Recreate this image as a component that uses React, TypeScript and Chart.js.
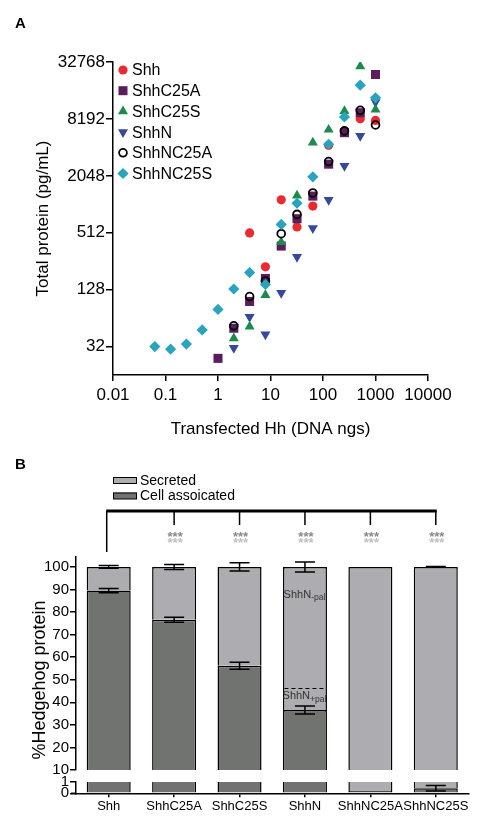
import React, { useEffect, useRef } from 'react';
import { Chart, registerables } from 'chart.js';

Chart.register(...registerables);

const FONT = "'Liberation Sans', Arial, Helvetica, sans-serif";
Chart.defaults.font.family = FONT;
Chart.defaults.color = '#000';

// ---------------- Panel A data ----------------
const seriesNamesA = ['Shh', 'ShhC25A', 'ShhC25S', 'ShhN', 'ShhNC25A', 'ShhNC25S'];
const shhDose = [4, 8, 16, 32, 64, 128, 256, 512, 1000];
const shhProtein = [510, 223, 1140, 590, 980, 4300, 6100, 8200, 7900];
const shhC25ADose = [1, 2, 4, 8, 16, 32, 64, 128, 256, 512, 1000];
const shhC25AProtein = [24, 50, 96, 168, 370, 720, 1250, 2720, 5860, 9530, 24160];
const shhC25SDose = [2, 4, 8, 16, 32, 64, 128, 256, 512, 1000];
const shhC25SProtein = [39, 52, 112, 407, 1264, 4600, 6300, 9900, 29540, 10300];
const shhNDose = [2, 4, 8, 16, 32, 64, 128, 256, 512, 1000];
const shhNProtein = [31, 66, 43, 118, 284, 573, 1140, 2610, 5400, 12300];
const shhNC25ADose = [2, 4, 8, 16, 32, 64, 128, 256, 512, 1000];
const shhNC25AProtein = [53, 108, 158, 500, 800, 1350, 2900, 6120, 10090, 7070];
const shhNC25SDose = [0.0625, 0.125, 0.25, 0.5, 1, 2, 4, 8, 16, 32, 64, 128, 256, 512, 1000];
const shhNC25SProtein = [32, 30, 34, 48, 79, 130, 194, 145, 627, 1050, 2000, 4420, 8580, 18650, 13700];

const xTicksA = [0.01, 0.1, 1, 10, 100, 1000, 10000];
const xTickLabelsA = ['0.01', '0.1', '1', '10', '100', '1000', '10000'];
const yTicksA = [32, 128, 512, 2048, 8192, 32768];
const yTickLabelsA = ['32', '128', '512', '2048', '8192', '32768'];

// ---------------- Panel B data ----------------
const categoriesB = ['Shh', 'ShhC25A', 'ShhC25S', 'ShhN', 'ShhNC25A', 'ShhNC25S'];
const legendB = ['Secreted', 'Cell assoicated'];
const cellAssociated = [89.5, 76.6, 56.2, 36.6, 0.2, 0.45];
const secreted = [10.5, 23.4, 43.8, 63.4, 99.8, 99.55];
const cellErr = [0.9, 1.1, 1.6, 1.8, 0, 0.25];
const secretedErr = [0.6, 1.1, 1.8, 2.2, 0, 0.15];
const significance = ['', '***', '***', '***', '***', '***'];
const upperTicksB = [10, 20, 30, 40, 50, 60, 70, 80, 90, 100];
const lowerTicksB = [0, 1];
const palBoundary = 46.3;
const palLabelMinus = 87.6;
const palLabelPlus = 42.6;

// ---------------- styles ----------------
const stylesA = [
  { color: '#ea2a2f', marker: 'circle' },
  { color: '#5c1d5e', marker: 'square' },
  { color: '#1b8b4d', marker: 'triUp' },
  { color: '#35489d', marker: 'triDown' },
  { color: '#000000', marker: 'open' },
  { color: '#28a4bd', marker: 'diamond' },
];
const LIGHT = '#adacb1';
const DARK = '#717371';

function drawMarker(ctx: CanvasRenderingContext2D, kind: string, x: number, y: number, color: string) {
  ctx.save();
  ctx.beginPath();
  ctx.fillStyle = color;
  if (kind === 'circle') {
    ctx.arc(x, y, 4.6, 0, Math.PI * 2);
    ctx.fill();
  } else if (kind === 'square') {
    ctx.rect(x - 4.5, y - 4.5, 9, 9);
    ctx.fill();
  } else if (kind === 'triUp') {
    const r = 5.8;
    ctx.moveTo(x, y - r);
    ctx.lineTo(x + r * 0.866, y + r / 2);
    ctx.lineTo(x - r * 0.866, y + r / 2);
    ctx.closePath();
    ctx.fill();
  } else if (kind === 'triDown') {
    const r = 5.8;
    ctx.moveTo(x, y + r);
    ctx.lineTo(x + r * 0.866, y - r / 2);
    ctx.lineTo(x - r * 0.866, y - r / 2);
    ctx.closePath();
    ctx.fill();
  } else if (kind === 'open') {
    ctx.arc(x, y, 3.9, 0, Math.PI * 2);
    ctx.lineWidth = 1.8;
    ctx.strokeStyle = '#000';
    ctx.stroke();
  } else if (kind === 'diamond') {
    const r = 5.6;
    ctx.moveTo(x, y - r);
    ctx.lineTo(x + r, y);
    ctx.lineTo(x, y + r);
    ctx.lineTo(x - r, y);
    ctx.closePath();
    ctx.fill();
  }
  ctx.restore();
}

function pts(xs: number[], ys: number[]) {
  return xs.map((x, i) => ({ x, y: ys[i] }));
}

function drawErr(ctx: CanvasRenderingContext2D, cx: number, scale: any, v: number, e: number, capHalf = 10) {
  if (!(e > 0)) return;
  if (v - e < scale.min || v + e > scale.max) return;
  const y1 = scale.getPixelForValue(v - e);
  const y2 = scale.getPixelForValue(v + e);
  ctx.save();
  ctx.strokeStyle = '#000';
  ctx.lineWidth = 1.5;
  ctx.beginPath();
  ctx.moveTo(cx, y1);
  ctx.lineTo(cx, y2);
  ctx.moveTo(cx - capHalf, y1);
  ctx.lineTo(cx + capHalf, y1);
  ctx.moveTo(cx - capHalf, y2);
  ctx.lineTo(cx + capHalf, y2);
  ctx.stroke();
  ctx.restore();
}

function drawSubLabel(ctx: CanvasRenderingContext2D, main: string, sub: string, cx: number, cy: number) {
  ctx.save();
  ctx.fillStyle = '#333';
  ctx.textBaseline = 'middle';
  ctx.textAlign = 'left';
  ctx.font = `11px ${FONT}`;
  const w1 = ctx.measureText(main).width;
  ctx.font = `8.5px ${FONT}`;
  const w2 = ctx.measureText(sub).width;
  const x0 = cx - (w1 + w2) / 2;
  ctx.font = `11px ${FONT}`;
  ctx.fillText(main, x0, cy);
  ctx.font = `8.5px ${FONT}`;
  ctx.fillText(sub, x0 + w1, cy + 3);
  ctx.restore();
}

const axisGrid = (len: number) => ({
  display: true,
  drawOnChartArea: false,
  drawTicks: true,
  tickLength: len,
  color: '#000',
  lineWidth: 1.5,
});
const axisBorder = { display: true, color: '#000', width: 1.5 };

function ScatterPanel() {
  const ref = useRef<HTMLCanvasElement>(null);
  useEffect(() => {
    const canvas = ref.current!;
    const legendPlugin = {
      id: 'legendA',
      afterDraw(chart: any) {
        const ctx = chart.ctx as CanvasRenderingContext2D;
        ctx.save();
        ctx.font = `16px ${FONT}`;
        ctx.textBaseline = 'middle';
        ctx.textAlign = 'left';
        seriesNamesA.forEach((name, i) => {
          const y = 70 + i * 20.7;
          drawMarker(ctx, stylesA[i].marker, 123, y, stylesA[i].color);
          ctx.fillStyle = '#000';
          ctx.fillText(name, 132, y + 1);
        });
        ctx.restore();
      },
    };
    const xsList = [shhDose, shhC25ADose, shhC25SDose, shhNDose, shhNC25ADose, shhNC25SDose];
    const ysList = [shhProtein, shhC25AProtein, shhC25SProtein, shhNProtein, shhNC25AProtein, shhNC25SProtein];
    const pointStyleOf: Record<string, any> = {
      circle: { pointStyle: 'circle', pointRadius: 4.6, pointRotation: 0 },
      square: { pointStyle: 'rect', pointRadius: 6.4, pointRotation: 0 },
      triUp: { pointStyle: 'triangle', pointRadius: 5.8, pointRotation: 0 },
      triDown: { pointStyle: 'triangle', pointRadius: 5.8, pointRotation: 180 },
      open: { pointStyle: 'circle', pointRadius: 3.9, pointRotation: 0 },
      diamond: { pointStyle: 'rectRot', pointRadius: 5.6, pointRotation: 0 },
    };
    const drawOrder = [5, 4, 2, 3, 1, 0];
    const datasets = seriesNamesA.map((name, i) => {
      const st = stylesA[i];
      const ps = pointStyleOf[st.marker];
      const open = st.marker === 'open';
      return {
        label: name,
        data: pts(xsList[i], ysList[i]),
        showLine: false,
        order: drawOrder[i],
        pointStyle: ps.pointStyle,
        pointRadius: ps.pointRadius,
        pointRotation: ps.pointRotation,
        pointHoverRadius: ps.pointRadius,
        backgroundColor: open ? 'rgba(0,0,0,0)' : st.color,
        borderColor: open ? '#000' : st.color,
        pointBorderWidth: open ? 1.8 : 0,
      };
    });
    const chart = new Chart(canvas, {
      type: 'scatter',
      data: { datasets },
      options: {
        responsive: false,
        animation: false,
        devicePixelRatio: 1,
        layout: { padding: { left: 0, top: 62, right: 64, bottom: 0 } },
        plugins: { legend: { display: false }, tooltip: { enabled: false } },
        scales: {
          x: {
            type: 'logarithmic',
            min: 0.01,
            max: 10000,
            afterBuildTicks: (s: any) => {
              s.ticks = xTicksA.map((v) => ({ value: v }));
            },
            afterFit: (s: any) => {
              s.height = 70;
            },
            ticks: {
              callback: (_v: any, i: number) => xTickLabelsA[i],
              font: { family: FONT, size: 17 },
              color: '#000',
              padding: 4,
              maxRotation: 0,
              autoSkip: false,
            },
            grid: axisGrid(6),
            border: axisBorder,
            title: {
              display: true,
              text: 'Transfected Hh (DNA ngs)',
              font: { family: FONT, size: 17 },
              color: '#000',
              padding: { top: 0, bottom: 5 },
            },
          },
          y: {
            type: 'logarithmic',
            min: 16,
            max: 32768,
            afterBuildTicks: (s: any) => {
              s.ticks = yTicksA.map((v) => ({ value: v }));
            },
            afterFit: (s: any) => {
              s.width = 113;
            },
            ticks: {
              callback: (_v: any, i: number) => yTickLabelsA[i],
              font: { family: FONT, size: 17 },
              color: '#000',
              padding: 1,
              autoSkip: false,
            },
            grid: axisGrid(7),
            border: axisBorder,
            title: {
              display: true,
              text: 'Total protein (pg/mL)',
              font: { family: FONT, size: 17 },
              color: '#000',
              padding: { top: 33, bottom: 0 },
            },
          },
        },
      } as any,
      plugins: [legendPlugin],
    });
    return () => chart.destroy();
  }, []);
  return <canvas ref={ref} width={492} height={445} style={{ position: 'absolute', left: 0, top: 0, width: 492, height: 445 }} />;
}

function barDatasets() {
  return [
    {
      label: legendB[1],
      data: cellAssociated,
      backgroundColor: DARK,
      borderColor: '#000',
      borderWidth: 1.5,
      borderSkipped: 'start',
      barPercentage: 0.673,
      categoryPercentage: 1,
      clip: 0,
    },
    {
      label: legendB[0],
      data: secreted,
      backgroundColor: LIGHT,
      borderColor: '#000',
      borderWidth: 1.5,
      borderSkipped: 'start',
      barPercentage: 0.673,
      categoryPercentage: 1,
      clip: 0,
    },
  ];
}

function UpperBars() {
  const ref = useRef<HTMLCanvasElement>(null);
  useEffect(() => {
    const canvas = ref.current!;
    const annot = {
      id: 'annotUpper',
      afterDatasetsDraw(chart: any) {
        const ctx = chart.ctx as CanvasRenderingContext2D;
        const { x, y } = chart.scales;
        const meta = chart.getDatasetMeta(0);
        const iN = categoriesB.indexOf('ShhN');
        const half = meta.data[iN].width / 2;
        const cxN = x.getPixelForValue(iN);
        ctx.save();
        ctx.setLineDash([4, 3]);
        ctx.lineWidth = 1;
        ctx.strokeStyle = '#000';
        const yd = Math.round(y.getPixelForValue(palBoundary)) + 0.5;
        ctx.beginPath();
        ctx.moveTo(cxN - half + 1.5, yd);
        ctx.lineTo(cxN + half - 1.5, yd);
        ctx.stroke();
        ctx.restore();
        drawSubLabel(ctx, 'ShhN', '-pal', cxN - 0.5, y.getPixelForValue(palLabelMinus));
        drawSubLabel(ctx, 'ShhN', '+pal', cxN - 0.5, y.getPixelForValue(palLabelPlus));
        categoriesB.forEach((_c, i) => {
          const cx = x.getPixelForValue(i);
          drawErr(ctx, cx, y, cellAssociated[i], cellErr[i]);
          drawErr(ctx, cx, y, cellAssociated[i] + secreted[i], secretedErr[i]);
        });
      },
      afterDraw(chart: any) {
        const ctx = chart.ctx as CanvasRenderingContext2D;
        const { x } = chart.scales;
        ctx.save();
        // legend
        const legendFills = [LIGHT, DARK];
        legendB.forEach((name, i) => {
          const top = 37 + i * 15.5;
          ctx.fillStyle = legendFills[i];
          ctx.fillRect(113, top, 24, 6.5);
          ctx.strokeStyle = '#000';
          ctx.lineWidth = 1;
          ctx.strokeRect(113.5, top + 0.5, 23, 6);
          ctx.fillStyle = '#000';
          ctx.font = `14px ${FONT}`;
          ctx.textBaseline = 'middle';
          ctx.textAlign = 'left';
          ctx.fillText(name, 140, top + 4);
        });
        // bracket
        const cxs = categoriesB.map((_c, i) => x.getPixelForValue(i));
        ctx.strokeStyle = '#000';
        ctx.lineWidth = 3;
        ctx.beginPath();
        ctx.moveTo(cxs[0] - 2.5, 71);
        ctx.lineTo(cxs[cxs.length - 1] + 1, 71);
        ctx.stroke();
        ctx.lineWidth = 1.5;
        ctx.beginPath();
        cxs.forEach((cx, i) => {
          const px = i === 0 ? cx - 2 : cx;
          ctx.moveTo(px, 71);
          ctx.lineTo(px, i === 0 ? 112 : 85);
        });
        ctx.stroke();
        // significance stars
        ctx.font = `bold 13px ${FONT}`;
        ctx.textAlign = 'center';
        ctx.textBaseline = 'alphabetic';
        cxs.forEach((cx, i) => {
          if (!significance[i]) return;
          ctx.fillStyle = '#888888';
          ctx.fillText(significance[i], cx + 1, 101);
          ctx.fillStyle = '#c0c0c0';
          ctx.fillText(significance[i], cx + 1, 107);
        });
        // y title (spans both axis segments)
        ctx.translate(40, 240);
        ctx.rotate(-Math.PI / 2);
        ctx.fillStyle = '#000';
        ctx.font = `18px ${FONT}`;
        ctx.textAlign = 'center';
        ctx.textBaseline = 'middle';
        ctx.fillText('%Hedgehog protein', 0, 0);
        ctx.restore();
      },
    };
    const chart = new Chart(canvas, {
      type: 'bar',
      data: { labels: categoriesB, datasets: barDatasets() as any },
      options: {
        responsive: false,
        animation: false,
        devicePixelRatio: 1,
        layout: { padding: { left: 0, top: 117, right: 23.5, bottom: 12 } },
        plugins: { legend: { display: false }, tooltip: { enabled: false } },
        scales: {
          x: { stacked: true, display: false },
          y: {
            stacked: true,
            min: 10,
            max: 104.4,
            afterBuildTicks: (s: any) => {
              s.ticks = upperTicksB.map((v) => ({ value: v }));
            },
            afterFit: (s: any) => {
              s.width = 76;
            },
            ticks: { font: { family: FONT, size: 15 }, color: '#000', padding: 1, autoSkip: false },
            grid: axisGrid(6),
            border: axisBorder,
          },
        },
      } as any,
      plugins: [annot],
    });
    return () => chart.destroy();
  }, []);
  return <canvas ref={ref} width={492} height={342} style={{ position: 'absolute', left: 0, top: 440, width: 492, height: 342 }} />;
}

function LowerBars() {
  const ref = useRef<HTMLCanvasElement>(null);
  useEffect(() => {
    const canvas = ref.current!;
    const annot = {
      id: 'annotLower',
      afterDatasetsDraw(chart: any) {
        const ctx = chart.ctx as CanvasRenderingContext2D;
        const { x, y } = chart.scales;
        categoriesB.forEach((_c, i) => {
          const cx = x.getPixelForValue(i);
          drawErr(ctx, cx, y, cellAssociated[i], cellErr[i]);
        });
        const b = chart.chartArea.bottom;
        ctx.save();
        ctx.strokeStyle = '#000';
        ctx.lineWidth = 1.5;
        ctx.beginPath();
        ctx.moveTo(71, b);
        ctx.lineTo(chart.chartArea.left, b);
        ctx.stroke();
        ctx.restore();
      },
    };
    const chart = new Chart(canvas, {
      type: 'bar',
      data: { labels: categoriesB, datasets: barDatasets() as any },
      options: {
        responsive: false,
        animation: false,
        devicePixelRatio: 1,
        layout: { padding: { left: 0, top: 12, right: 23.5, bottom: 0 } },
        plugins: { legend: { display: false }, tooltip: { enabled: false } },
        scales: {
          x: {
            stacked: true,
            afterFit: (s: any) => {
              s.height = 32.7;
            },
            ticks: { font: { family: FONT, size: 13 }, color: '#000', padding: 1, autoSkip: false, maxRotation: 0 },
            grid: { ...axisGrid(4), offset: false },
            border: axisBorder,
          },
          y: {
            stacked: true,
            min: 0,
            max: 1,
            afterBuildTicks: (s: any) => {
              s.ticks = lowerTicksB.map((v) => ({ value: v }));
            },
            afterFit: (s: any) => {
              s.width = 76;
            },
            ticks: { font: { family: FONT, size: 15 }, color: '#000', padding: 1, autoSkip: false },
            grid: axisGrid(6),
            border: axisBorder,
          },
        },
      } as any,
      plugins: [annot],
    });
    return () => chart.destroy();
  }, []);
  return <canvas ref={ref} width={492} height={56} style={{ position: 'absolute', left: 0, top: 770, width: 492, height: 56 }} />;
}

export default function App() {
  const letter = (top: number): React.CSSProperties => ({
    position: 'absolute',
    left: 15,
    top,
    font: `bold 15px ${FONT}`,
    lineHeight: '15px',
    color: '#000',
  });
  return (
    <div style={{ position: 'absolute', left: 0, top: 0, width: 492, height: 826, background: '#fff', overflow: 'hidden' }}>
      <ScatterPanel />
      <UpperBars />
      <LowerBars />
      <div style={letter(15)}>A</div>
      <div style={letter(456)}>B</div>
    </div>
  );
}
